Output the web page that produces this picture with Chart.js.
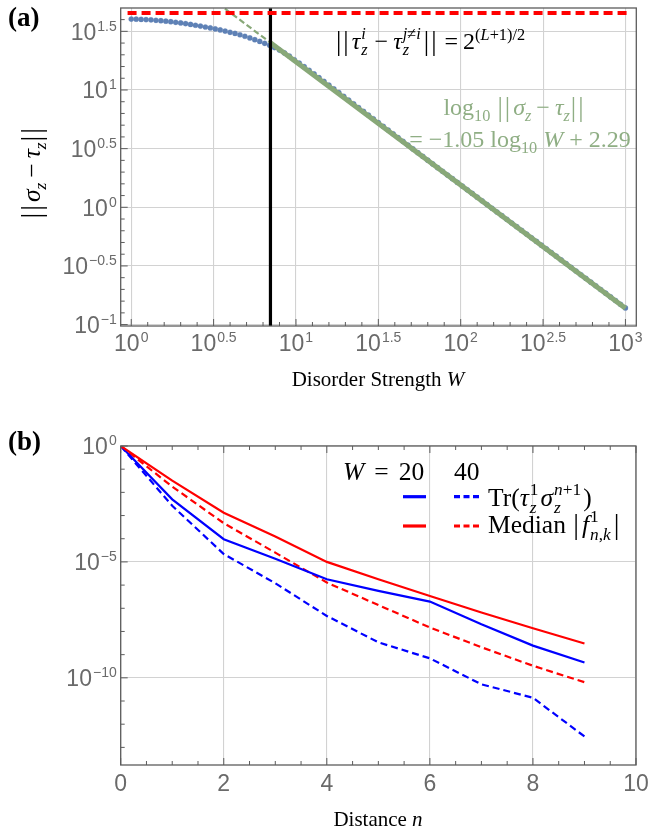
<!DOCTYPE html>
<html><head><meta charset="utf-8">
<script src="https://cdn.jsdelivr.net/npm/chart.js@4.4.1/dist/chart.umd.min.js"></script>
<style>
html,body{margin:0;padding:0;background:#fff;}
body{width:648px;height:834px;position:relative;overflow:hidden;}
canvas{position:absolute;left:0;}
#ca{top:0}
#cb{top:400px}
.t{position:absolute;left:0;top:0;white-space:nowrap;font-family:'Liberation Serif','Times New Roman',serif;font-size:21px;line-height:1;color:#000;}
.t i{font-style:italic}
.b{font-weight:bold;font-size:27px}
.g{color:#8fae84}
.m{font-size:24px}
.lg{font-size:25.5px}
.ss{display:inline-flex;flex-direction:column;vertical-align:0.42em;line-height:1;margin-left:1px;margin-right:2px}
.ss>span{font-size:0.68em}
sub,sup{font-size:0.68em;line-height:0}
.nb{font-size:1.12em;letter-spacing:2px;vertical-align:-0.04em;margin:0 1px}
.op{display:inline-block;margin:0 5px}
.op2{display:inline-block;margin:0 10px}
</style></head><body>
<canvas id="ca" width="648" height="400"></canvas>
<canvas id="cb" width="648" height="434"></canvas>

<div class="t b" data-x="8" data-b="26">(a)</div>
<div class="t b" data-x="8" data-b="450">(b)</div>
<div class="t" data-x="378" data-b="386" data-a="c">Disorder Strength <i>W</i></div>
<div class="t" data-x="378" data-b="826" data-a="c">Distance <i>n</i></div>
<div class="t lg" id="ytitle" data-cx="32" data-cy="172"><span class="nb">||</span><i>σ</i><sub><i>z</i></sub><span class="op">−</span><i>τ</i><sub><i>z</i></sub><span class="nb">||</span></div>
<div class="t m" data-x="430" data-b="49" data-a="c"><span class="nb">||</span><i>τ</i><span class="ss"><span><i>i</i></span><span><i>z</i></span></span><span class="op">−</span><i>τ</i><span class="ss"><span><i>j</i>≠<i>i</i></span><span><i>z</i></span></span><span class="nb">||</span><span class="op">=</span>2<sup>(<i>L</i>+1)/2</sup></div>
<div class="t m g" data-x="515" data-b="115" data-a="c">log<sub>10</sub> <span class="nb">||</span><i>σ</i><sub><i>z</i></sub><span class="op">−</span><i>τ</i><sub><i>z</i></sub><span class="nb">||</span></div>
<div class="t m g" data-x="520" data-b="147" data-a="c">= −1.05 log<sub>10</sub> <i>W</i> + 2.29</div>
<div class="t lg" data-x="343" data-b="480"><i>W</i><span class="op2">=</span>20</div>
<div class="t lg" data-x="454" data-b="480">40</div>
<div class="t lg" data-x="488" data-b="506">Tr(<i>τ</i><span class="ss"><span>1</span><span><i>z</i></span></span><i>σ</i><span class="ss"><span><i>n</i>+1</span><span><i>z</i></span></span>)</div>
<div class="t lg" data-x="488" data-b="533">Median <span class="nb">|</span><i>f</i><span class="ss"><span>1</span><span><i>n</i>,<i>k</i></span></span><span class="nb">|</span></div>

<script>
// ---------- Panel (a) data (log10 values) ----------
const logW = [0.00,0.03,0.06,0.09,0.12,0.15,0.18,0.21,0.24,0.27,0.30,0.33,0.36,0.39,0.42,0.45,0.48,0.51,0.54,0.57,0.60,0.63,0.66,0.69,0.72,0.75,0.78,0.81,0.84,0.87,0.90,0.93,0.96,0.99,1.02,1.05,1.08,1.11,1.14,1.17,1.20,1.23,1.26,1.29,1.32,1.35,1.38,1.41,1.44,1.47,1.50,1.53,1.56,1.59,1.62,1.65,1.68,1.71,1.74,1.77,1.80,1.83,1.86,1.89,1.92,1.95,1.98,2.01,2.04,2.07,2.10,2.13,2.16,2.19,2.22,2.25,2.28,2.31,2.34,2.37,2.40,2.43,2.46,2.49,2.52,2.55,2.58,2.61,2.64,2.67,2.70,2.73,2.76,2.79,2.82,2.85,2.88,2.91,2.94,2.97,3.00];
const logNorm = [1.605,1.604,1.602,1.600,1.598,1.594,1.591,1.587,1.582,1.577,1.572,1.566,1.559,1.552,1.545,1.537,1.529,1.521,1.512,1.502,1.492,1.482,1.471,1.458,1.444,1.429,1.414,1.398,1.381,1.362,1.340,1.316,1.290,1.258,1.229,1.199,1.168,1.137,1.105,1.073,1.041,1.009,0.978,0.946,0.914,0.882,0.850,0.818,0.786,0.754,0.722,0.690,0.658,0.626,0.594,0.562,0.530,0.498,0.466,0.434,0.402,0.370,0.338,0.307,0.275,0.244,0.212,0.181,0.149,0.118,0.086,0.055,0.023,-0.008,-0.040,-0.071,-0.102,-0.134,-0.165,-0.197,-0.228,-0.260,-0.291,-0.323,-0.354,-0.386,-0.417,-0.449,-0.480,-0.512,-0.543,-0.575,-0.606,-0.638,-0.669,-0.701,-0.732,-0.764,-0.795,-0.827,-0.858];
const boundW = [0.95, 1050];          // red dashed bound 2^((L+1)/2), L = 10
const boundVal = [45.25, 45.25];
const cutW = 7.0;                      // black vertical marker
const fitDashW = [1, 7.0];             // fit, extrapolated part
const fitDashVal = [195, 25.3];
const fitW = [7.0, 1000];              // fit, solid part
const fitVal = [25.3, 0.138];
const xTickExpA = [0, 0.5, 1, 1.5, 2, 2.5, 3];
const xTickLabelsA = ['0', '0.5', '1', '1.5', '2', '2.5', '3'];
const yTickExpA = [-1, -0.5, 0, 0.5, 1, 1.5];
const yTickLabelsA = ['\u22121', '\u22120.5', '0', '0.5', '1', '1.5'];

// ---------- Panel (b) data ----------
const distance = [0, 1, 2, 3, 4, 5, 6, 7, 8, 9];
const trW20  = [1, 5.0e-3, 9.55e-5, 1.38e-5, 1.78e-6, 5.62e-7, 1.95e-7, 2.04e-8, 2.45e-9, 4.57e-10];
const trW40  = [1, 2.63e-3, 2.19e-5, 1.20e-6, 4.68e-8, 3.39e-9, 6.92e-10, 5.25e-11, 1.38e-11, 2.95e-13];
const medW20 = [1, 3.2e-2, 1.33e-3, 1.26e-4, 1.0e-5, 1.78e-6, 3.39e-7, 6.61e-8, 1.38e-8, 3.02e-9];
const medW40 = [1, 1.78e-2, 4.68e-4, 2.51e-5, 1.29e-6, 1.38e-7, 1.48e-8, 2.09e-9, 3.31e-10, 6.46e-11];
const xTicksB = [0, 2, 4, 6, 8, 10];
const xTickLabelsB = ['0', '2', '4', '6', '8', '10'];
const yTickExpB = [0, -5, -10];
const yTickLabelsB = ['0', '\u22125', '\u221210'];

// ---------- styling ----------
const FRAME = '#5c5c5c', LABEL = '#6a6a6a', GRID = '#d2d2d2';
const BASE_FONT = "23px 'Liberation Sans', Arial, sans-serif";
const EXP_FONT = "14px 'Liberation Sans', Arial, sans-serif";
const BLUEPT = '#5e81b5', GREEN = '#88a878';

function powLabel(ctx, exp, x, yc, align) {
  ctx.font = BASE_FONT; const wb = ctx.measureText('10').width;
  ctx.font = EXP_FONT; const we = ctx.measureText(exp).width;
  const gap = 1, total = wb + gap + we;
  const sx = align === 'right' ? x - total : x - total / 2;
  const base = yc + 8.3;
  ctx.font = BASE_FONT; ctx.fillText('10', sx, base);
  ctx.font = EXP_FONT; ctx.fillText(exp, sx + wb + gap, base - 9);
}

function pts(xs, ys) { return xs.map((v, i) => ({ x: v, y: ys[i] })); }

Chart.defaults.animation = false;

// ---------- Chart (a) ----------
const frameA = {
  id: 'frameA',
  afterDatasetsDraw(chart) {
    const { ctx, chartArea: a, scales: { x, y } } = chart;
    ctx.save();
    ctx.strokeStyle = FRAME; ctx.lineWidth = 1.3;
    ctx.strokeRect(a.left, a.top, a.right - a.left, a.bottom - a.top);
    ctx.lineWidth = 1; ctx.beginPath();
    for (let k = 0; k <= 30; k++) {
      const px = x.getPixelForValue(Math.pow(10, k / 10)); const L = k % 5 === 0 ? 7 : 4;
      ctx.moveTo(px, a.bottom); ctx.lineTo(px, a.bottom - L);
    }
    for (let k = -10; k <= 16; k++) {
      const py = y.getPixelForValue(Math.pow(10, k / 10)); const L = k % 5 === 0 ? 7 : 4;
      ctx.moveTo(a.left, py); ctx.lineTo(a.left + L, py);
    }
    ctx.stroke();
    ctx.fillStyle = LABEL; ctx.textAlign = 'left'; ctx.textBaseline = 'alphabetic';
    xTickExpA.forEach((e, i) => powLabel(ctx, xTickLabelsA[i], x.getPixelForValue(Math.pow(10, e)), 343, 'center'));
    yTickExpA.forEach((e, i) => powLabel(ctx, yTickLabelsA[i], 116.7, y.getPixelForValue(Math.pow(10, e)), 'right'));
    ctx.restore();
  }
};

const yMinA = Math.pow(10, -1.012), yMaxA = Math.pow(10, 1.699);
new Chart(document.getElementById('ca'), {
  type: 'scatter',
  data: {
    datasets: [
      { data: pts(boundW, boundVal), showLine: true, borderColor: '#ff0000', borderWidth: 4, borderDash: [9, 5], pointRadius: 0, order: 1 },
      { data: [{ x: cutW, y: yMinA }, { x: cutW, y: yMaxA }], showLine: true, borderColor: '#000', borderWidth: 3.2, pointRadius: 0, order: 2 },
      { data: pts(fitW, fitVal), showLine: true, borderColor: GREEN, borderWidth: 5, pointRadius: 0, order: 3 },
      { data: pts(fitDashW, fitDashVal), showLine: true, borderColor: GREEN, borderWidth: 2.2, borderDash: [6, 3], pointRadius: 0, order: 4 },
      { data: logW.map((lw, i) => ({ x: Math.pow(10, lw), y: Math.pow(10, logNorm[i]) })), showLine: false,
        pointRadius: 2.6, pointBackgroundColor: BLUEPT, pointBorderColor: 'rgba(94,129,181,0.35)', pointBorderWidth: 0.8, order: 5 }
    ]
  },
  options: {
    responsive: false, devicePixelRatio: 1,
    layout: { padding: { left: 0, right: 648 - 636.3, top: 8, bottom: 0 } },
    plugins: { legend: { display: false }, tooltip: { enabled: false } },
    scales: {
      x: {
        type: 'logarithmic', min: Math.pow(10, -0.064), max: Math.pow(10, 3.066),
        afterBuildTicks: s => { s.ticks = xTickExpA.map(e => ({ value: Math.pow(10, e) })); },
        ticks: { display: false }, grid: { color: GRID, lineWidth: 1.1, drawTicks: false }, border: { display: false },
        afterFit: s => { s.height = 400 - 326; }
      },
      y: {
        type: 'logarithmic', min: yMinA, max: yMaxA,
        afterBuildTicks: s => { s.ticks = yTickExpA.map(e => ({ value: Math.pow(10, e) })); },
        ticks: { display: false }, grid: { color: GRID, lineWidth: 1.1, drawTicks: false }, border: { display: false },
        afterFit: s => { s.width = 120.7; }
      }
    }
  },
  plugins: [frameA]
});

// ---------- Chart (b) ----------
const frameB = {
  id: 'frameB',
  afterDatasetsDraw(chart) {
    const { ctx, chartArea: a, scales: { x, y } } = chart;
    ctx.save();
    ctx.strokeStyle = FRAME; ctx.lineWidth = 1.3;
    ctx.strokeRect(a.left, a.top, a.right - a.left, a.bottom - a.top);
    ctx.lineWidth = 1; ctx.beginPath();
    for (let k = 0; k <= 20; k++) {
      const px = x.getPixelForValue(k / 2); const L = k % 4 === 0 ? 7 : 4;
      ctx.moveTo(px, a.bottom); ctx.lineTo(px, a.bottom - L);
      ctx.moveTo(px, a.top); ctx.lineTo(px, a.top + L);
    }
    for (let k = 0; k >= -13; k--) {
      const py = y.getPixelForValue(Math.pow(10, k)); const L = k % 5 === 0 ? 7 : 4;
      ctx.moveTo(a.left, py); ctx.lineTo(a.left + L, py);
    }
    ctx.stroke();
    ctx.fillStyle = LABEL; ctx.textBaseline = 'alphabetic';
    ctx.font = BASE_FONT; ctx.textAlign = 'center';
    xTicksB.forEach((v, i) => ctx.fillText(xTickLabelsB[i], x.getPixelForValue(v), 383 + 8.3));
    ctx.textAlign = 'left';
    yTickExpB.forEach((e, i) => powLabel(ctx, yTickLabelsB[i], 116.7, y.getPixelForValue(Math.pow(10, e)), 'right'));
    // legend line samples
    const rows = [['#0000ff', 96.7], ['#ff0000', 126]];
    ctx.lineWidth = 3.2;
    rows.forEach(([c, yy]) => {
      ctx.strokeStyle = c;
      ctx.setLineDash([]); ctx.beginPath(); ctx.moveTo(403, yy); ctx.lineTo(426, yy); ctx.stroke();
      ctx.setLineDash([6, 3.5]); ctx.beginPath(); ctx.moveTo(454, yy); ctx.lineTo(480, yy); ctx.stroke();
    });
    ctx.restore();
  }
};

function lineDS(vals, color, dashed) {
  return { data: pts(distance, vals), showLine: true, borderColor: color, borderWidth: 2.2,
           borderDash: dashed ? [7, 4] : [], pointRadius: 0, tension: 0 };
}

new Chart(document.getElementById('cb'), {
  type: 'scatter',
  data: {
    datasets: [
      lineDS(medW20, '#ff0000', false),
      lineDS(trW20, '#0000ff', false),
      lineDS(medW40, '#ff0000', true),
      lineDS(trW40, '#0000ff', true)
    ]
  },
  options: {
    responsive: false, devicePixelRatio: 1,
    layout: { padding: { left: 0, right: 12, top: 46, bottom: 0 } },
    plugins: { legend: { display: false }, tooltip: { enabled: false } },
    scales: {
      x: {
        type: 'linear', min: 0, max: 10,
        afterBuildTicks: s => { s.ticks = xTicksB.map(v => ({ value: v })); },
        ticks: { display: false }, grid: { color: GRID, lineWidth: 1.1, drawTicks: false }, border: { display: false },
        afterFit: s => { s.height = 434 - 365; }
      },
      y: {
        type: 'logarithmic', min: Math.pow(10, -13.76), max: 1,
        afterBuildTicks: s => { s.ticks = yTickExpB.map(e => ({ value: Math.pow(10, e) })); },
        ticks: { display: false }, grid: { color: GRID, lineWidth: 1.1, drawTicks: false }, border: { display: false },
        afterFit: s => { s.width = 120.7; }
      }
    }
  },
  plugins: [frameB]
});

// ---------- position HTML text by baseline ----------
document.querySelectorAll('.t').forEach(el => {
  if (el.id === 'ytitle') return;
  const m = document.createElement('span');
  m.style.cssText = 'display:inline-block;width:0;height:0;vertical-align:baseline';
  el.appendChild(m);
  const r = el.getBoundingClientRect(), mr = m.getBoundingClientRect();
  const baseOff = mr.bottom - r.top, w = r.width;
  const x = +el.dataset.x, b = +el.dataset.b, a = el.dataset.a || 'l';
  el.style.top = (b - baseOff) + 'px';
  el.style.left = (a === 'c' ? x - w / 2 : a === 'r' ? x - w : x) + 'px';
});
(function () {
  const el = document.getElementById('ytitle');
  const r = el.getBoundingClientRect();
  el.style.left = (+el.dataset.cx - r.width / 2) + 'px';
  el.style.top = (+el.dataset.cy - r.height / 2) + 'px';
  el.style.transformOrigin = '50% 50%';
  el.style.transform = 'rotate(-90deg)';
})();
</script>
</body></html>
